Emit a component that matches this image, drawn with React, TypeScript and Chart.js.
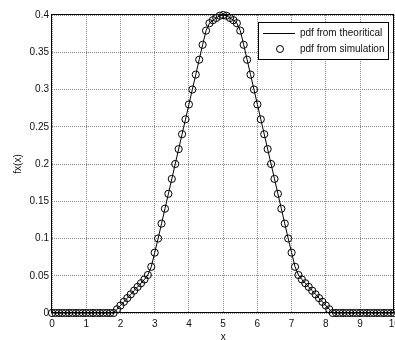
import React, { useEffect, useRef } from "react";
import { Chart, registerables } from "chart.js";

Chart.register(...registerables);

// x grid (0 .. 10, step 0.1)
const xValues: number[] = [
  0, 0.1, 0.2, 0.3, 0.4, 0.5, 0.6, 0.7, 0.8, 0.9,
  1, 1.1, 1.2, 1.3, 1.4, 1.5, 1.6, 1.7, 1.8, 1.9,
  2, 2.1, 2.2, 2.3, 2.4, 2.5, 2.6, 2.7, 2.8, 2.9,
  3, 3.1, 3.2, 3.3, 3.4, 3.5, 3.6, 3.7, 3.8, 3.9,
  4, 4.1, 4.2, 4.3, 4.4, 4.5, 4.6, 4.7, 4.8, 4.9,
  5, 5.1, 5.2, 5.3, 5.4, 5.5, 5.6, 5.7, 5.8, 5.9,
  6, 6.1, 6.2, 6.3, 6.4, 6.5, 6.6, 6.7, 6.8, 6.9,
  7, 7.1, 7.2, 7.3, 7.4, 7.5, 7.6, 7.7, 7.8, 7.9,
  8, 8.1, 8.2, 8.3, 8.4, 8.5, 8.6, 8.7, 8.8, 8.9,
  9, 9.1, 9.2, 9.3, 9.4, 9.5, 9.6, 9.7, 9.8, 9.9,
  10,
];

// theoretical pdf values
const theoryValues: number[] = [
  0, 0, 0, 0, 0, 0, 0, 0, 0, 0,
  0, 0, 0, 0, 0, 0, 0, 0, 0, 0.005,
  0.01, 0.015, 0.02, 0.025, 0.03, 0.035, 0.04, 0.045, 0.051, 0.062,
  0.081, 0.1, 0.12, 0.14, 0.16, 0.18, 0.2, 0.22, 0.24, 0.26,
  0.28, 0.3, 0.32, 0.34, 0.36, 0.379, 0.389, 0.393, 0.396, 0.399,
  0.4, 0.399, 0.396, 0.393, 0.389, 0.379, 0.36, 0.34, 0.32, 0.3,
  0.28, 0.26, 0.24, 0.22, 0.2, 0.18, 0.16, 0.14, 0.12, 0.1,
  0.081, 0.062, 0.051, 0.045, 0.04, 0.035, 0.03, 0.025, 0.02, 0.015,
  0.01, 0.005, 0, 0, 0, 0, 0, 0, 0, 0,
  0, 0, 0, 0, 0, 0, 0, 0, 0, 0,
  0,
];

// simulated pdf values
const simValues: number[] = [
  0, 0, 0, 0, 0, 0, 0, 0, 0, 0,
  0, 0, 0, 0, 0, 0, 0, 0, 0, 0.005,
  0.01, 0.015, 0.02, 0.025, 0.03, 0.035, 0.04, 0.045, 0.051, 0.062,
  0.081, 0.1, 0.12, 0.14, 0.16, 0.18, 0.2, 0.22, 0.24, 0.26,
  0.28, 0.3, 0.32, 0.34, 0.36, 0.379, 0.389, 0.393, 0.396, 0.399,
  0.4, 0.399, 0.396, 0.393, 0.389, 0.379, 0.36, 0.34, 0.32, 0.3,
  0.28, 0.26, 0.24, 0.22, 0.2, 0.18, 0.16, 0.14, 0.12, 0.1,
  0.081, 0.062, 0.051, 0.045, 0.04, 0.035, 0.03, 0.025, 0.02, 0.015,
  0.01, 0.005, 0, 0, 0, 0, 0, 0, 0, 0,
  0, 0, 0, 0, 0, 0, 0, 0, 0, 0,
  0,
];

const seriesLabels = ["pdf from theoritical", "pdf from simulation"];
const xAxisLabel = "x";
const yAxisLabel = "fx(x)";

const FONT = '"Liberation Sans", Arial, Helvetica, sans-serif';

const boxPlugin = {
  id: "plotBox",
  afterDatasetsDraw(chart: any) {
    const { ctx, chartArea } = chart;
    ctx.save();
    ctx.strokeStyle = "#000";
    ctx.lineWidth = 1;
    const l = Math.round(chartArea.left) - 0.5;
    const t = Math.round(chartArea.top) - 0.5;
    const r = Math.round(chartArea.right) - 0.5;
    const b = Math.round(chartArea.bottom) - 0.5;
    ctx.strokeRect(l, t, r - l, b - t);
    ctx.restore();
  },
};

const legendPlugin = {
  id: "boxLegend",
  afterDraw(chart: any) {
    const { ctx, chartArea } = chart;
    const ds = chart.data.datasets;
    const w = 130;
    const h = 37;
    const x = Math.round(chartArea.right - 6 - w);
    const y = Math.round(chartArea.top + 7);
    ctx.save();
    ctx.fillStyle = "#fff";
    ctx.fillRect(x, y, w, h);
    ctx.strokeStyle = "#000";
    ctx.lineWidth = 1;
    ctx.strokeRect(x + 0.5, y + 0.5, w, h);
    ctx.font = `10px ${FONT}`;
    ctx.fillStyle = "#111";
    ctx.textBaseline = "middle";
    ctx.textAlign = "left";
    const r1 = y + 11;
    ctx.beginPath();
    ctx.moveTo(x + 5, r1 + 0.5);
    ctx.lineTo(x + 37, r1 + 0.5);
    ctx.stroke();
    ctx.fillText(ds[0].label, x + 42, r1);
    const r2 = y + 27;
    ctx.beginPath();
    ctx.arc(x + 22, r2, 3.5, 0, Math.PI * 2);
    ctx.stroke();
    ctx.fillText(ds[1].label, x + 42, r2);
    ctx.restore();
  },
};

export default function App() {
  const ref = useRef<HTMLCanvasElement | null>(null);

  useEffect(() => {
    if (!ref.current) return;
    const theory = xValues.map((x, i) => ({ x, y: theoryValues[i] }));
    const sim = xValues.map((x, i) => ({ x, y: simValues[i] }));
    const tickFont = { family: FONT, size: 10 };
    const chart = new Chart(ref.current, {
      type: "line",
      data: {
        datasets: [
          {
            label: seriesLabels[0],
            data: theory,
            borderColor: "#000",
            borderWidth: 1,
            pointRadius: 0,
            tension: 0,
            fill: false,
            clip: false as any,
          },
          {
            label: seriesLabels[1],
            data: sim,
            showLine: false,
            borderColor: "#000",
            backgroundColor: "rgba(0,0,0,0)",
            pointStyle: "circle",
            pointRadius: 3.6,
            pointBorderWidth: 1,
            pointBorderColor: "#000",
            pointBackgroundColor: "rgba(0,0,0,0)",
            clip: false as any,
          },
        ],
      },
      options: {
        responsive: false,
        animation: false,
        devicePixelRatio: 1,
        events: [],
        layout: { padding: { left: 0, top: 15, right: 35.7, bottom: 0 } },
        plugins: {
          legend: { display: false },
          tooltip: { enabled: false },
          title: { display: false },
        },
        scales: {
          x: {
            type: "linear",
            min: 0,
            max: 10,
            afterFit: (s: any) => {
              s.height = 37;
            },
            ticks: {
              stepSize: 1,
              autoSkip: false,
              maxRotation: 0,
              padding: 5,
              color: "#111",
              font: tickFont,
            },
            grid: { color: "#8a8a8a", drawTicks: false, lineWidth: 1 },
            border: { display: false, dash: [1, 1] },
            title: {
              display: true,
              text: xAxisLabel,
              color: "#111",
              font: tickFont,
              padding: { top: 0, bottom: 7 },
            },
          },
          y: {
            type: "linear",
            min: 0,
            max: 0.4,
            afterFit: (s: any) => {
              s.width = 52;
            },
            ticks: {
              stepSize: 0.05,
              padding: 3,
              color: "#111",
              font: tickFont,
              callback: (v: any) => String(Number(Number(v).toFixed(2))),
            },
            grid: { color: "#8a8a8a", drawTicks: false, lineWidth: 1 },
            border: { display: false, dash: [1, 1] },
            title: {
              display: true,
              text: yAxisLabel,
              color: "#111",
              font: tickFont,
              padding: { top: 12, bottom: 0 },
            },
          },
        },
      } as any,
      plugins: [boxPlugin, legendPlugin],
    });
    return () => chart.destroy();
  }, []);

  return (
    <div
      style={{
        position: "absolute",
        left: 0,
        top: 0,
        width: 395,
        height: 340,
        overflow: "hidden",
        background: "#fff",
      }}
    >
      <canvas
        ref={ref}
        width={430}
        height={350}
        style={{ display: "block", width: 430, height: 350 }}
      />
    </div>
  );
}
